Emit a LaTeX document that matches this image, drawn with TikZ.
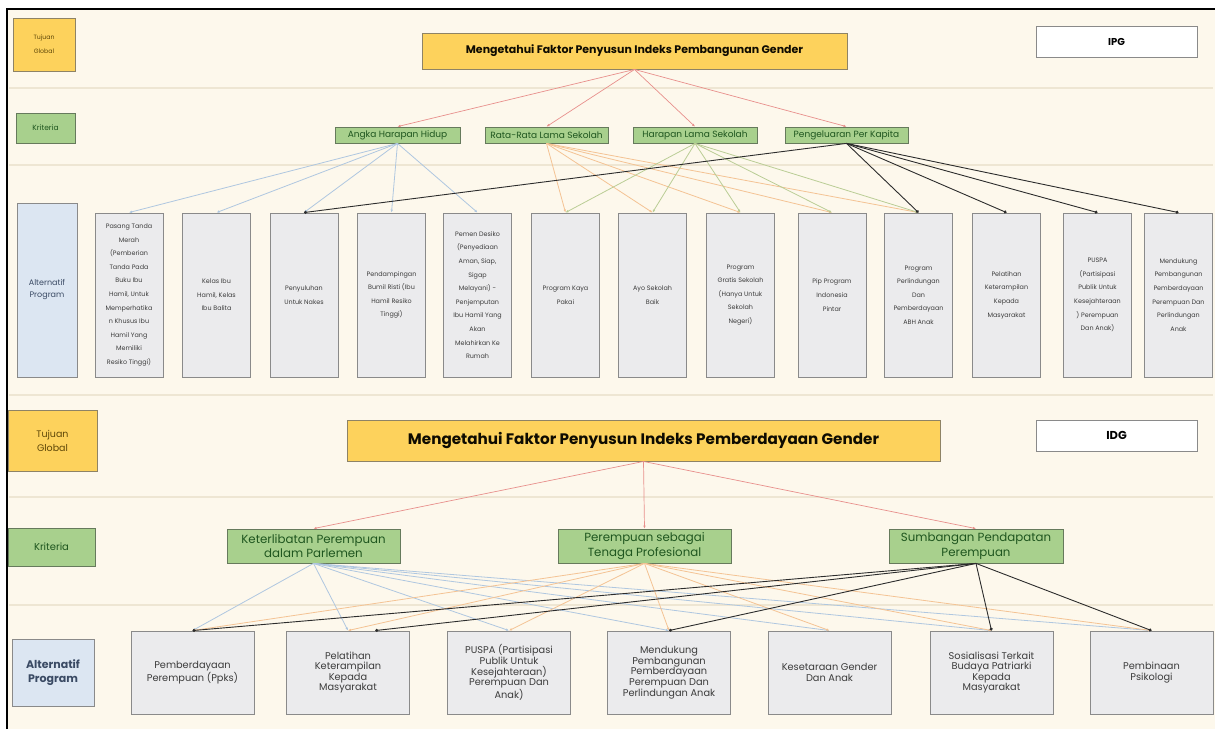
\documentclass[tikz,border=0pt]{standalone}
\usepackage{fontspec}
\setmainfont{Poppins}
\usetikzlibrary{arrows.meta,positioning}
\definecolor{Cream}{HTML}{FDF8EC}
\definecolor{SepLine}{HTML}{EEE6D3}
\definecolor{Goal}{HTML}{FDD25C}
\definecolor{GoalEdge}{HTML}{8E8365}
\definecolor{GoalText}{HTML}{5E4708}
\definecolor{Crit}{HTML}{A8D08D}
\definecolor{CritEdge}{HTML}{667A5C}
\definecolor{CritText}{HTML}{1F561F}
\definecolor{Prog}{HTML}{EBEBED}
\definecolor{ProgEdge}{HTML}{8A8A8A}
\definecolor{ProgText}{HTML}{3C3C3C}
\definecolor{Alt}{HTML}{DCE6F2}
\definecolor{AltText}{HTML}{3A4A64}
\definecolor{LinkRed}{HTML}{E8908C}
\definecolor{LinkBlue}{HTML}{AFC7E0}
\definecolor{LinkOrange}{HTML}{F4C394}
\definecolor{LinkGreen}{HTML}{BACD95}
\definecolor{LinkDark}{HTML}{2C2C2C}
\tikzset{
  goal/.style={draw=GoalEdge,fill=Goal,line width=.9pt,align=center,inner sep=1pt},
  crit/.style={draw=CritEdge,fill=Crit,line width=.8pt,align=center,inner sep=1pt,text=CritText},
  prog/.style={draw=ProgEdge,fill=Prog,line width=.9pt,align=center,inner sep=1pt,text=ProgText},
  progA/.style={prog,minimum width=68,minimum height=164,font=\fontsize{6.4}{13.6}\selectfont},
  progB/.style={prog,minimum width=123,minimum height=83,font=\fontsize{9.8}{10.6}\selectfont},
  tag/.style={draw=ProgEdge,fill=white,line width=.9pt,align=center,minimum width=161,minimum height=31,font=\bfseries},
  alt/.style={draw=ProgEdge,fill=Alt,line width=.9pt,align=center,text=AltText},
  sepline/.style={draw=SepLine,line width=1.6pt},
  tip/.style={-{Latex[length=3pt,width=2.6pt]}},
  redlink/.style={tip,draw=LinkRed,line width=.7pt},
  bluelink/.style={tip,draw=LinkBlue,line width=.8pt},
  orangelink/.style={tip,draw=LinkOrange,line width=.8pt},
  greenlink/.style={tip,draw=LinkGreen,line width=.8pt},
  darklink/.style={-{Circle[length=3pt]},draw=LinkDark,line width=.9pt}
}
\begin{document}
\begin{tikzpicture}[x=1pt,y=-1pt]
  \useasboundingbox (0,0) rectangle (1215,729);
  \fill[white] (0,0) rectangle (1215,729);
  \fill[Cream] (7,9) rectangle (1215,729);
  \foreach \yy in {88,165,395,497,605}
    \draw[sepline] (9,\yy) -- (1213,\yy);
  \draw[line width=2.4pt] (7,729) -- (7,9) -- (1215,9);

  % IPG
  \node[goal,minimum width=62,minimum height=53,text=GoalText,font=\fontsize{6.2}{14}\selectfont] (goalA) at (44,44.5) {Tujuan\\Global};
  \node[goal,minimum width=425,minimum height=36,text=black!85!GoalText,font=\fontsize{11}{13}\bfseries] (ipgT) at (634.5,51) {Mengetahui Faktor Penyusun Indeks Pembangunan Gender};
  \node[tag,font=\fontsize{10}{12}\bfseries] (ipg) at (1116.5,41.5) {IPG};
  \node[crit,minimum width=59,minimum height=30,font=\fontsize{7.5}{9}\selectfont] (critA) at (45.5,128) {Kriteria};
  \node[crit,minimum width=125,minimum height=16,font=\fontsize{9}{10}\selectfont] (ahh) at (397.5,135) {Angka Harapan Hidup};
  \node[crit,minimum width=123,minimum height=16,font=\fontsize{9}{10}\selectfont] (rrls) at (546.5,135) {Rata-Rata Lama Sekolah};
  \node[crit,minimum width=124,minimum height=16,font=\fontsize{9}{10}\selectfont] (hls) at (695,135) {Harapan Lama Sekolah};
  \node[crit,minimum width=123,minimum height=16,font=\fontsize{9}{10}\selectfont] (ppk) at (846.5,135) {Pengeluaran Per Kapita};
  \node[alt,minimum width=60,minimum height=174,font=\fontsize{8}{12}\selectfont] (altA) at (47,290) {Alternatif\\Program};

  \node[progA] (a1) at (129,295) {Pasang Tanda\\Merah\\(Pemberian\\Tanda Pada\\Buku Ibu\\Hamil, Untuk\\Memperhatika\\n Khusus Ibu\\Hamil Yang\\Memiliki\\Resiko Tinggi)};
  \node[progA] (a2) at (216.5,295) {Kelas Ibu\\Hamil, Kelas\\Ibu Balita};
  \node[progA] (a3) at (304,295) {Penyuluhan\\Untuk Nakes};
  \node[progA] (a4) at (391.5,295) {Pendampingan\\Bumil Risti (Ibu\\Hamil Resiko\\Tinggi)};
  \node[progA] (a5) at (477.5,295) {Pemen Desiko\\(Penyediaan\\Aman, Siap,\\Sigap\\Melayani) -\\Penjemputan\\Ibu Hamil Yang\\Akan\\Melahirkan Ke\\Rumah};
  \node[progA] (a6) at (565.5,295) {Program Kaya\\Pakai};
  \node[progA] (a7) at (652.5,295) {Ayo Sekolah\\Baik};
  \node[progA] (a8) at (740.5,295) {Program\\Gratis Sekolah\\(Hanya Untuk\\Sekolah\\Negeri)};
  \node[progA] (a9) at (832,295) {Pip Program\\Indonesia\\Pintar};
  \node[progA] (a10) at (918.5,295) {Program\\Perlindungan\\Dan\\Pemberdayaan\\ABH Anak};
  \node[progA] (a11) at (1006.5,295) {Pelatihan\\Keterampilan\\Kepada\\Masyarakat};
  \node[progA] (a12) at (1097.5,295) {PUSPA\\(Partisipasi\\Publik Untuk\\Kesejahteraan\\) Perempuan\\Dan Anak)};
  \node[progA] (a13) at (1178.5,295) {Mendukung\\Pembangunan\\Pemberdayaan\\Perempuan Dan\\Perlindungan\\Anak};

  \foreach \c in {ahh,rrls,hls,ppk}
    \draw[redlink] (ipgT.south) -- (\c.north);
  \foreach \p in {a1,a2,a3,a4,a5}
    \draw[bluelink] (ahh.south) -- (\p.north);
  \foreach \p in {a6,a7,a8,a9,a10}
    \draw[orangelink] (rrls.south) -- (\p.north);
  \foreach \p in {a6,a7,a8,a9,a10}
    \draw[greenlink] (hls.south) -- (\p.north);
  \foreach \p in {a3,a10,a11,a12,a13}
    \draw[darklink] (ppk.south) -- (\p.north);

  % IDG
  \node[goal,minimum width=89,minimum height=61,text=GoalText,font=\fontsize{9.5}{14}\selectfont] (goalB) at (52.5,440.5) {Tujuan\\Global};
  \node[goal,minimum width=593,minimum height=41,text=black!85!GoalText,font=\fontsize{15.2}{17}\bfseries] (idgT) at (643.5,440.5) {Mengetahui Faktor Penyusun Indeks Pemberdayaan Gender};
  \node[tag,font=\fontsize{11.5}{13}\bfseries] (idg) at (1116.5,435.5) {IDG};
  \node[crit,minimum width=87,minimum height=38,font=\fontsize{10}{12}\selectfont] (critB) at (51.5,547) {Kriteria};
  \node[crit,minimum width=173,minimum height=34,font=\fontsize{11.8}{14.5}\selectfont] (kpp) at (313.5,546) {Keterlibatan Perempuan\\dalam Parlemen};
  \node[crit,minimum width=173,minimum height=34,font=\fontsize{11.8}{14.5}\selectfont] (pstp) at (644.5,546) {Perempuan sebagai\\Tenaga Profesional};
  \node[crit,minimum width=174,minimum height=34,font=\fontsize{11.8}{14.5}\selectfont] (spp) at (976,546) {Sumbangan Pendapatan\\Perempuan};
  \node[alt,minimum width=82,minimum height=67,font=\fontsize{11}{14}\bfseries] (altB) at (53,672.5) {Alternatif\\Program};

  \node[progB] (b1) at (192.5,672.5) {Pemberdayaan\\Perempuan (Ppks)};
  \node[progB] (b2) at (348,672.5) {Pelatihan\\Keterampilan\\Kepada\\Masyarakat};
  \node[progB] (b3) at (509,672.5) {PUSPA (Partisipasi\\Publik Untuk\\Kesejahteraan)\\Perempuan Dan\\Anak)};
  \node[progB] (b4) at (669,672.5) {Mendukung\\Pembangunan\\Pemberdayaan\\Perempuan Dan\\Perlindungan Anak};
  \node[progB] (b5) at (829.5,672.5) {Kesetaraan Gender\\Dan Anak};
  \node[progB] (b6) at (991.5,672.5) {Sosialisasi Terkait\\Budaya Patriarki\\Kepada\\Masyarakat};
  \node[progB] (b7) at (1151.5,672.5) {Pembinaan\\Psikologi};

  \foreach \c in {kpp,pstp,spp}
    \draw[redlink] (idgT.south) -- (\c.north);
  \foreach \p in {b1,b2,b3,b4,b5,b6,b7}
    \draw[bluelink] (kpp.south) -- (\p.north);
  \foreach \p in {b1,b2,b3,b4,b5,b6,b7}
    \draw[orangelink] (pstp.south) -- (\p.north);
  \draw[darklink] (spp.south) -- (b1.north);
  \draw[darklink] (spp.south) -- (b2.57);
  \draw[darklink] (spp.south) -- (b4.north);
  \draw[darklink] (spp.south) -- (b6.north);
  \draw[darklink] (spp.south) -- (b7.north);
\end{tikzpicture}
\end{document}
